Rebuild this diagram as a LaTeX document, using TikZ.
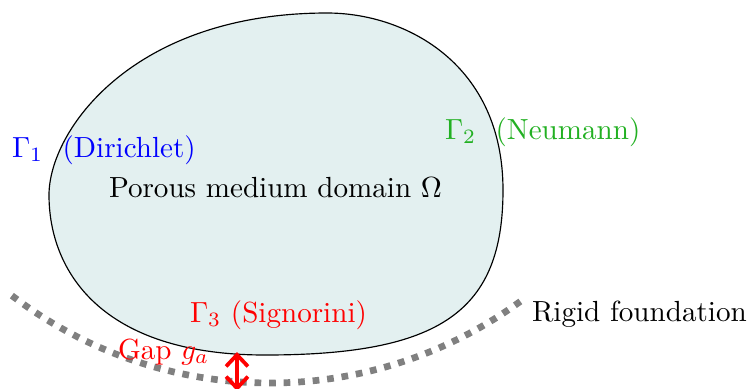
\documentclass[tikz,border=0pt]{standalone}
\usetikzlibrary{arrows.meta}
\definecolor{fillteal}{HTML}{E3F0F0}
\definecolor{nGreen}{HTML}{22B022}
\tikzset{
  lbl/.style={inner sep=0pt, outer sep=0pt, anchor=base west},
  foundation/.style={draw=gray, line width=2.3pt, dash pattern=on 2.3pt off 2.7pt},
  gaparrow/.style={draw=red, line width=1.3pt, {Straight Barb[length=4pt,width=7.5pt]}-{Straight Barb[length=4pt,width=7.5pt]}},
}
\begin{document}
\begin{tikzpicture}[x=0.3436pt, y=-0.3436pt]
\useasboundingbox (0,0) rectangle (748,388);
% domain
\draw[fill=fillteal, line width=0.4pt]
  (49,195) .. controls (49,131) and (132,13) .. (327,13)
  .. controls (407,13) and (503,65) .. (503,190)
  .. controls (503,311) and (441,355) .. (265,355)
  .. controls (100,355) and (49,270) .. (49,195) -- cycle;
% rigid foundation
\draw[foundation] plot[smooth, domain=127.4:53.6, samples=40] ({270+425*cos(\x)}, {-42+425*sin(\x)});
% labels
\node[lbl] (omega) at (109,197) {Porous medium domain $\Omega$};
\node[lbl, text=blue] (g1) at (12,157) {$\Gamma_1$\ \ (Dirichlet)};
\node[lbl, text=nGreen] (g2) at (445,139) {$\Gamma_2$\ \ (Neumann)};
\node[lbl, text=red] (g3) at (190,322) {$\Gamma_3$ (Signorini)};
\node[lbl, text=red] (gap) at (118,359) {Gap $g_a$};
\node[lbl] (rigid) at (532,321) {Rigid foundation};
% gap arrow
\coordinate (gtop) at (237,352);
\coordinate (gbot) at (237,391);
\draw[gaparrow] (gtop) -- (gbot);
\end{tikzpicture}
\end{document}
